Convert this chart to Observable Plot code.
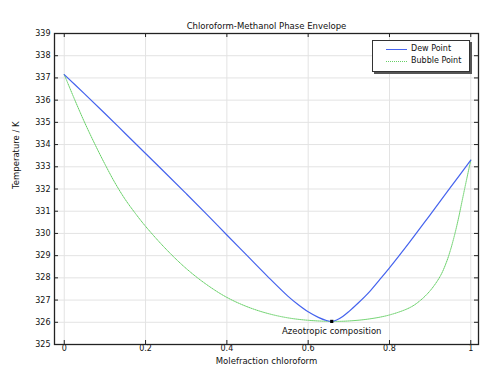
<!DOCTYPE html>
<html><head><meta charset="utf-8">
<script src="https://cdn.jsdelivr.net/npm/d3@7"></script>
<script src="https://cdn.jsdelivr.net/npm/@observablehq/plot@0.6"></script>
<style>
body{margin:0;background:#fff;}
#wrap{position:relative;width:492px;height:370px;font-family:"DejaVu Sans",sans-serif;color:#111;}
#legend{position:absolute;left:372px;top:40px;width:96px;height:30px;border:1px solid #333;box-shadow:2px 2px 0 #555;background:#fff;font-size:8px;}
.row{position:absolute;left:0;height:10px;line-height:10px;}
.sw{position:absolute;left:13px;top:5px;width:21px;height:0;}
.lb{position:absolute;left:38px;top:0;white-space:nowrap;}
</style>
</head><body>
<div id="wrap"><div id="chart"></div><div id="legend"></div></div>
<script>
const titleText = "Chloroform-Methanol Phase Envelope";
const xLabel = "Molefraction chloroform";
const yLabel = "Temperature / K";
const annotationText = "Azeotropic composition";
const seriesNames = ["Dew Point", "Bubble Point"];
const seriesColors = ["#4563ee", "#66d066"];

const xTicks = [0, 0.2, 0.4, 0.6, 0.8, 1];
const xTickLabels = ["0", "0.2", "0.4", "0.6", "0.8", "1"];
const yTicks = [325,326,327,328,329,330,331,332,333,334,335,336,337,338,339];

const dewX = [0, 0.05, 0.1, 0.15, 0.2, 0.25, 0.3, 0.35, 0.4, 0.45, 0.5, 0.55, 0.575, 0.6, 0.625, 0.645, 0.658, 0.67, 0.685, 0.7, 0.725, 0.75, 0.775, 0.8, 0.85, 0.9, 0.95, 1.0];
const dewT = [337.15, 336.28, 335.4, 334.5, 333.6, 332.7, 331.79, 330.87, 329.93, 329.0, 328.07, 327.18, 326.8, 326.47, 326.22, 326.08, 326.04, 326.1, 326.26, 326.48, 326.9, 327.36, 327.9, 328.45, 329.62, 330.84, 332.07, 333.3];

const bubbleX = [0, 0.025, 0.05, 0.075, 0.1, 0.125, 0.15, 0.175, 0.2, 0.25, 0.3, 0.35, 0.4, 0.45, 0.5, 0.55, 0.6, 0.658, 0.7, 0.75, 0.8, 0.85, 0.875, 0.9, 0.925, 0.94, 0.95, 0.96, 0.97, 0.98, 0.99, 1.0];
const bubbleT = [337.15, 336.05, 335.0, 334.03, 333.12, 332.27, 331.53, 330.9, 330.32, 329.3, 328.42, 327.7, 327.12, 326.7, 326.4, 326.2, 326.09, 326.04, 326.06, 326.15, 326.33, 326.66, 326.97, 327.42, 328.08, 328.7, 329.25, 329.92, 330.7, 331.58, 332.45, 333.3];

const azeoX = [0.658];
const azeoT = [326.04];

const dew = dewX.map((x, i) => ({x, t: dewT[i]}));
const bubble = bubbleX.map((x, i) => ({x, t: bubbleT[i]}));
const azeo = azeoX.map((x, i) => ({x, t: azeoT[i], label: annotationText}));

const W = 492, H = 370, mT = 33, mB = 26, mL = 54, mR = 14;
const frameH = H - mT - mB, frameW = W - mL - mR;
const tk = 4;

const chart = Plot.plot({
  width: W, height: H,
  marginTop: mT, marginBottom: mB, marginLeft: mL, marginRight: mR,
  style: {fontFamily: "DejaVu Sans, sans-serif", fontSize: "8px", color: "#111", background: "#fff"},
  x: {domain: [-0.024, 1.019]},
  y: {domain: [325, 339]},
  marks: [
    Plot.gridX(xTicks, {stroke: "#e3e3e3", strokeOpacity: 1}),
    Plot.gridY(yTicks, {stroke: "#e3e3e3", strokeOpacity: 1}),
    Plot.ruleX(xTicks, {stroke: "#222", insetTop: frameH - tk}),
    Plot.ruleX(xTicks, {stroke: "#222", insetBottom: frameH - tk}),
    Plot.ruleY(yTicks, {stroke: "#222", insetRight: frameW - tk}),
    Plot.ruleY(yTicks, {stroke: "#222", insetLeft: frameW - tk}),
    Plot.axisX(xTicks, {tickSize: 0, tickPadding: 1, tickFormat: (d, i) => xTickLabels[i], label: null}),
    Plot.axisY(yTicks, {tickSize: 0, tickPadding: 4, label: null}),
    Plot.line(bubble, {x: "x", y: "t", stroke: seriesColors[1], strokeWidth: 1, strokeDasharray: "1,1", curve: "catmull-rom"}),
    Plot.line(dew, {x: "x", y: "t", stroke: seriesColors[0], strokeWidth: 1.2, curve: "catmull-rom"}),
    Plot.dot(azeo, {x: "x", y: "t", r: 1.8, fill: "#000", symbol: "square"}),
    Plot.text(azeo, {x: "x", y: "t", text: "label", dy: 10, fill: "#111", fontSize: 8.5}),
    Plot.frame({stroke: "#222", strokeWidth: 1.3}),
    Plot.text([titleText], {frameAnchor: "top", dy: -11, fontSize: 8.5, fill: "#111"}),
    Plot.text([xLabel], {frameAnchor: "bottom", dy: 19, fontSize: 8.5, fill: "#111"}),
    Plot.text([yLabel], {frameAnchor: "left", dx: -38, rotate: -90, fontSize: 8.5, fill: "#111"})
  ]
});
document.getElementById("chart").appendChild(chart);

const legend = document.getElementById("legend");
seriesNames.forEach((name, i) => {
  const row = document.createElement("div");
  row.className = "row";
  row.style.top = (8 + i * 12 - 5) + "px";
  row.style.width = "96px";
  const sw = document.createElement("div");
  sw.className = "sw";
  if (i === 0) { sw.style.height = "1px"; sw.style.background = seriesColors[i]; }
  else { sw.style.borderTop = `1px dotted ${seriesColors[i]}`; }
  const lb = document.createElement("div");
  lb.className = "lb";
  lb.textContent = name;
  row.appendChild(sw); row.appendChild(lb);
  legend.appendChild(row);
});
</script>
</body></html>
